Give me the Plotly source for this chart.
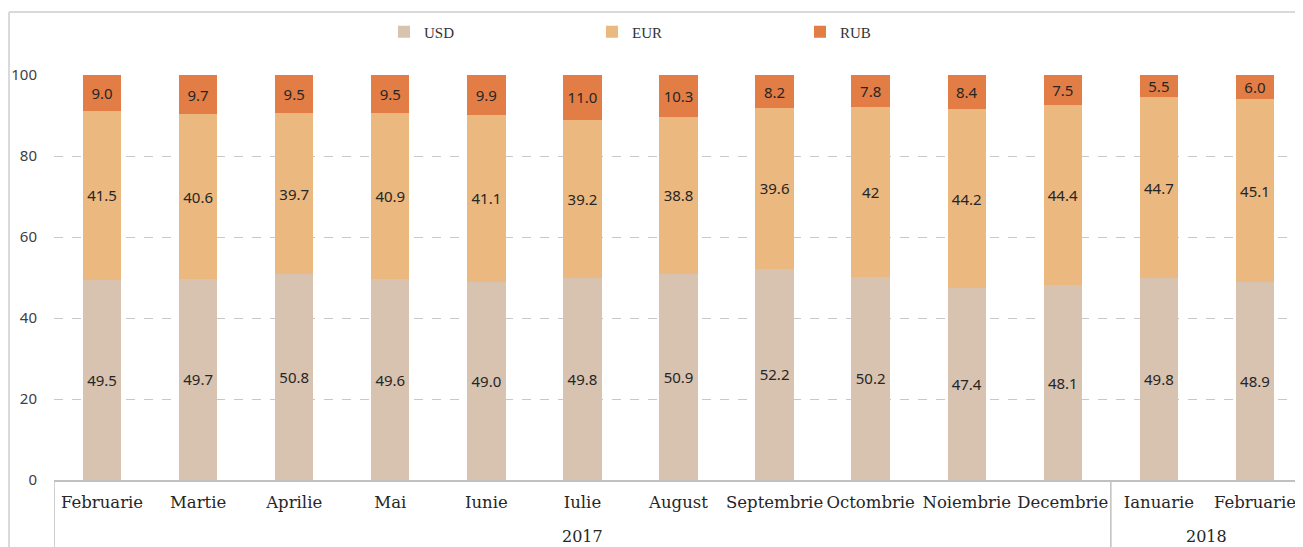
import plotly.graph_objects as go

years = ["2017"] * 11 + ["2018"] * 2
months = ["Februarie", "Martie", "Aprilie", "Mai", "Iunie", "Iulie", "August",
          "Septembrie", "Octombrie", "Noiembrie", "Decembrie", "Ianuarie", "Februarie"]
usd = [49.5, 49.7, 50.8, 49.6, 49.0, 49.8, 50.9, 52.2, 50.2, 47.4, 48.1, 49.8, 48.9]
eur = [41.5, 40.6, 39.7, 40.9, 41.1, 39.2, 38.8, 39.6, 42, 44.2, 44.4, 44.7, 45.1]
rub = [9.0, 9.7, 9.5, 9.5, 9.9, 11.0, 10.3, 8.2, 7.8, 8.4, 7.5, 5.5, 6.0]
usd_txt = ["49.5", "49.7", "50.8", "49.6", "49.0", "49.8", "50.9", "52.2", "50.2", "47.4", "48.1", "49.8", "48.9"]
eur_txt = ["41.5", "40.6", "39.7", "40.9", "41.1", "39.2", "38.8", "39.6", "42", "44.2", "44.4", "44.7", "45.1"]
rub_txt = ["9.0", "9.7", "9.5", "9.5", "9.9", "11.0", "10.3", "8.2", "7.8", "8.4", "7.5", "5.5", "6.0"]

idx = list(range(len(months)))
series = [("USD", usd, usd_txt, "#d8c2b0"), ("EUR", eur, eur_txt, "#ebb87f"), ("RUB", rub, rub_txt, "#e27d45")]

fig = go.Figure()
for name, vals, txt, col in series:
    fig.add_trace(go.Bar(
        x=idx, y=vals, name=name, text=txt,
        textposition="inside", insidetextanchor="middle", textangle=0,
        constraintext="none",
        textfont=dict(family="Noto Sans", size=15, color="#262626"),
        marker=dict(color=col, line=dict(width=0)),
        width=0.4,
    ))

fig.update_layout(
    barmode="stack",
    width=1295, height=539,
    margin=dict(l=46, r=0, t=67, b=67, autoexpand=False),
    paper_bgcolor="white", plot_bgcolor="white",
    legend=dict(orientation="h", x=0.514, xanchor="center", y=1.106, yanchor="middle",
                font=dict(family="Liberation Serif", size=15, color="#333333"),
                entrywidth=163, itemwidth=30, traceorder="normal"),
    font=dict(family="Noto Sans", color="#404040"),
)
fig.update_yaxes(range=[0, 100], dtick=20, showgrid=True, gridcolor="#c8c8c8", griddash="dash",
                 zeroline=False, showline=False, ticks="", tickfont=dict(size=15, color="#404040"),
                 ticklabelstandoff=16)
fig.update_xaxes(range=[-0.5, len(months) - 0.5], tickvals=idx, ticktext=months,
                 showline=True, linecolor="#c0c0c0", linewidth=1.5, showgrid=False, zeroline=False,
                 ticks="", ticklabelstandoff=6,
                 tickfont=dict(family="DejaVu Serif", size=16.5, color="#262626"))

# year group labels and dividers
groups = []
for i, yr in enumerate(years):
    if not groups or groups[-1][0] != yr:
        groups.append([yr, i, i])
    else:
        groups[-1][2] = i
for yr, a, b in groups:
    fig.add_annotation(x=(a + b) / 2, xref="x", y=-0.14, yref="paper", yanchor="middle",
                       text=yr, showarrow=False,
                       font=dict(family="DejaVu Serif", size=16, color="#262626"))
    fig.add_shape(type="line", xref="x", yref="paper", x0=a - 0.5, x1=a - 0.5, y0=0, y1=-0.2,
                  line=dict(color="#c0c0c0", width=1.5))

# outer frame (top and left edges)
fig.add_shape(type="line", xref="paper", yref="paper", x0=-0.036, x1=1, y0=1.1556, y1=1.1556,
              line=dict(color="#d9d9d9", width=2))
fig.add_shape(type="line", xref="paper", yref="paper", x0=-0.036, x1=-0.036, y0=1.1556, y1=-0.2,
              line=dict(color="#d9d9d9", width=2))

fig.write_html("out.html")
